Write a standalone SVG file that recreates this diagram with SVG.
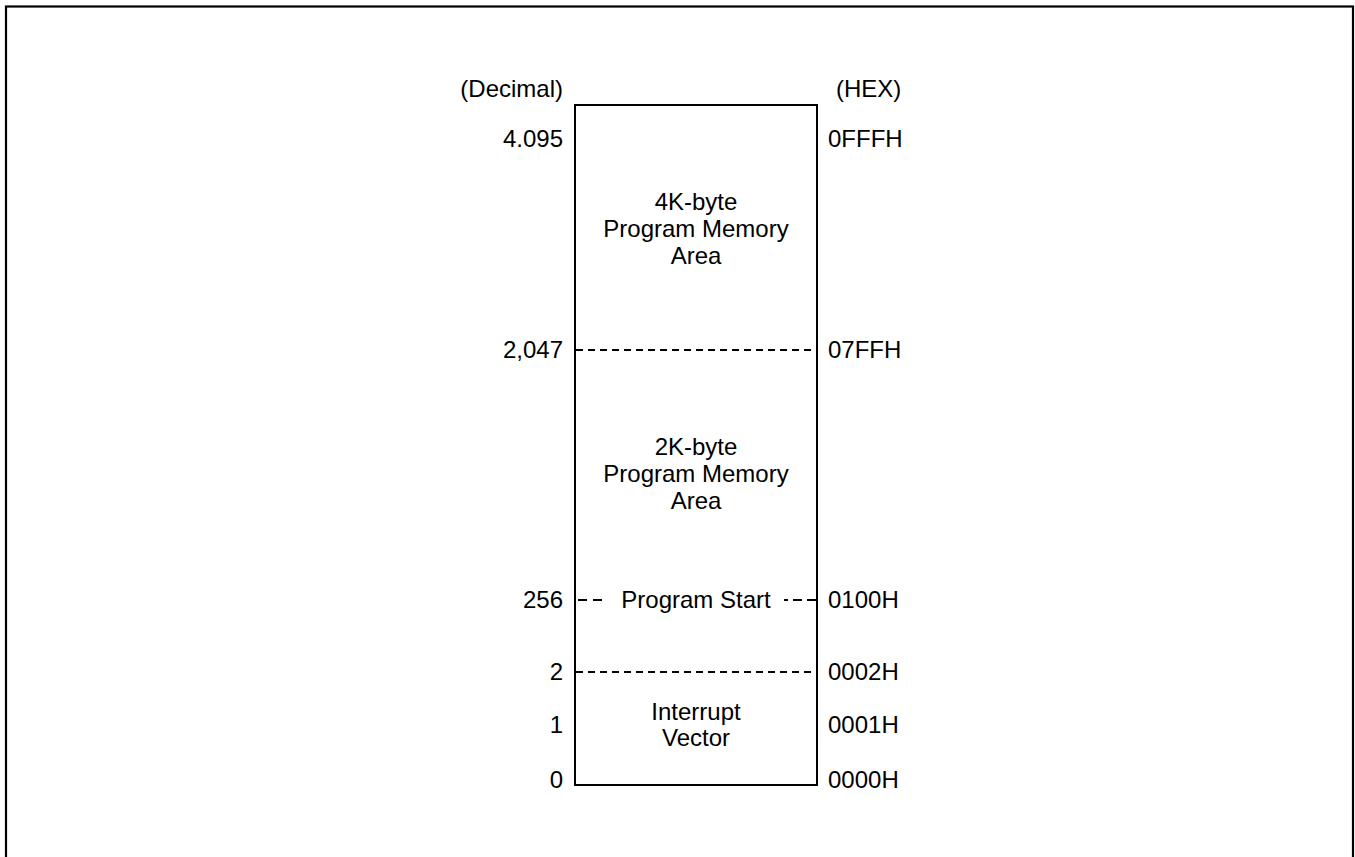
<svg xmlns="http://www.w3.org/2000/svg" width="1355" height="857" viewBox="0 0 1355 857">
<style>
text{font-family:"Liberation Sans",Arial,sans-serif;font-size:24px;fill:#000}
.dec{text-anchor:end}
.mid{text-anchor:middle}
.box{fill:#fff;stroke:#000;stroke-width:2}
.dash{stroke:#000;stroke-width:1.8;stroke-dasharray:7 5;fill:none}
.frame{fill:none;stroke:#000;stroke-width:2.2}
</style>
<rect width="1355" height="857" fill="#fff"/>
<rect class="frame" x="6" y="6.5" width="1347" height="900"/>
<g id="memory-box">
<rect class="box" x="575" y="105" width="242" height="680"/>
</g>
<g id="connectors">
<line class="dash" x1="576" y1="350" x2="816" y2="350"/>
<line class="dash" x1="576" y1="672" x2="816" y2="672"/>
<line class="dash" x1="578" y1="600" x2="605" y2="600" style="stroke-dasharray:9 6"/>
<line class="dash" x1="816" y1="600" x2="784" y2="600" style="stroke-dasharray:9 5"/>
</g>
<g id="header">
<text class="dec" x="563" y="97">(Decimal)</text>
<text x="836" y="97">(HEX)</text>
</g>
<g id="addr-4095">
<text class="dec" x="563" y="147">4.095</text>
<text x="828" y="147">0FFFH</text>
</g>
<g id="area-4k">
<text class="mid" x="696" y="210">4K-byte</text>
<text class="mid" x="696" y="237">Program Memory</text>
<text class="mid" x="696" y="264">Area</text>
</g>
<g id="addr-2047">
<text class="dec" x="563" y="358">2,047</text>
<text x="828" y="358">07FFH</text>
</g>
<g id="area-2k">
<text class="mid" x="696" y="455">2K-byte</text>
<text class="mid" x="696" y="482">Program Memory</text>
<text class="mid" x="696" y="509">Area</text>
</g>
<g id="addr-256">
<text class="dec" x="563" y="608">256</text>
<text class="mid" x="696" y="608">Program Start</text>
<text x="828" y="608">0100H</text>
</g>
<g id="addr-2">
<text class="dec" x="563" y="680">2</text>
<text x="828" y="680">0002H</text>
</g>
<g id="interrupt-vector">
<text class="mid" x="696" y="720">Interrupt</text>
<text class="mid" x="696" y="746">Vector</text>
</g>
<g id="addr-1">
<text class="dec" x="563" y="733">1</text>
<text x="828" y="733">0001H</text>
</g>
<g id="addr-0">
<text class="dec" x="563" y="788">0</text>
<text x="828" y="788">0000H</text>
</g>
</svg>
